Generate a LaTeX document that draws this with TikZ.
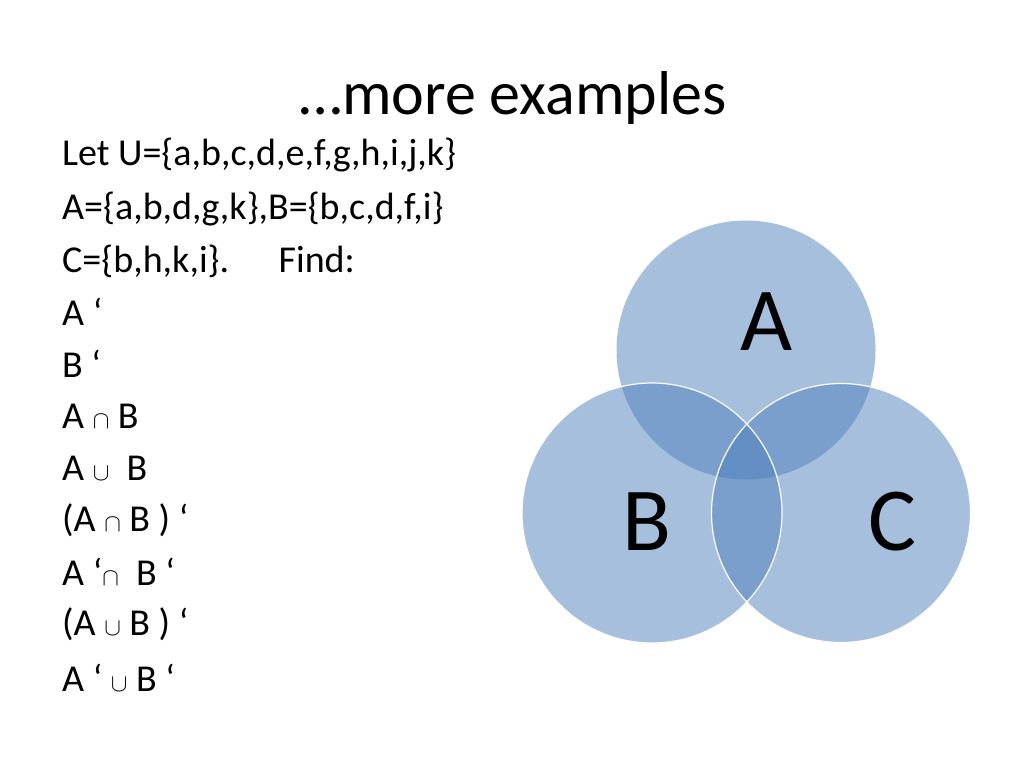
\documentclass[tikz,border=0pt]{standalone}
\usepackage{fontspec}
\setmainfont{Carlito}
\begin{document}
\begin{tikzpicture}[x=1pt,y=-1pt,
  venn/.style={fill={rgb,255:red,79;green,129;blue,189},fill opacity=0.5},
  edge/.style={draw=white,line width=1.2pt},
  lbl/.style={font=\fontsize{90}{90}\selectfont,text=black},
  line/.style={anchor=west,font=\fontsize{38}{38}\selectfont,inner sep=0}]
\useasboundingbox (0,0) rectangle (1024,768);
\fill[white] (0,0) rectangle (1024,768);
\node (title) at (513,98) {\fontsize{62}{62}\selectfont …more examples};
\path[venn] (746,350) circle (129.5);
\path[venn] (652,513) circle (130);
\path[venn] (841,513) circle (129.5);
\draw[edge] (652,513) circle (130);
\draw[edge] (841,513) circle (129.5);
\node[lbl] (la) at (767,322) {A};
\node[lbl] (lb) at (647,522) {B};
\node[lbl] (lc) at (892,522) {C};
\node[line] (t1) at (62,155) {Let U=\{a,b,c,d,e,f,g,h,i,j,k\}};
\node[line] (t2) at (62,209) {A=\{a,b,d,g,k\},B=\{b,c,d,f,i\}};
\node[line] (t3) at (62,261) {C=\{b,h,k,i\}.\hspace{1.3em}Find:};
\node[line] (t4) at (62,312) {A ‘};
\node[line] (t5) at (62,364) {B ‘};
\node[line] (t6) at (62,416) {A $\cap$ B};
\node[line] (t7) at (62,468) {A $\cup$\ \ B};
\node[line] (t8) at (62,520) {(A $\cap$ B ) ‘};
\node[line] (t9) at (62,572) {A ‘$\cap$\ \ B ‘};
\node[line] (t10) at (62,624) {(A $\cup$ B ) ‘};
\node[line] (t11) at (62,678) {A ‘ $\cup$ B ‘};
\end{tikzpicture}
\end{document}
